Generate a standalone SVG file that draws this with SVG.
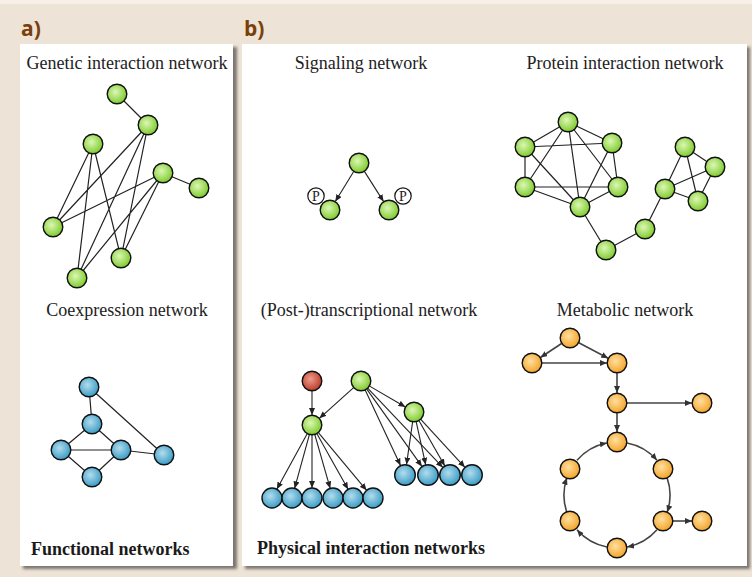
<svg xmlns="http://www.w3.org/2000/svg" width="752" height="577" viewBox="0 0 752 577">
<defs>
<radialGradient id="gG" cx="0.42" cy="0.4" r="0.6"><stop offset="0" stop-color="#dcf7b4"/><stop offset="1" stop-color="#7fcb2f"/></radialGradient>
<radialGradient id="gB" cx="0.42" cy="0.4" r="0.6"><stop offset="0" stop-color="#b3dced"/><stop offset="1" stop-color="#3b9dc6"/></radialGradient>
<radialGradient id="gO" cx="0.42" cy="0.4" r="0.6"><stop offset="0" stop-color="#ffdfa0"/><stop offset="1" stop-color="#f4a52a"/></radialGradient>
<radialGradient id="gR" cx="0.42" cy="0.4" r="0.6"><stop offset="0" stop-color="#ee9c8c"/><stop offset="1" stop-color="#bb3d2c"/></radialGradient>
<filter id="sh" x="-5%" y="-5%" width="110%" height="110%"><feGaussianBlur stdDeviation="1.6"/></filter>
<marker id="ar" markerUnits="userSpaceOnUse" markerWidth="7" markerHeight="6" refX="7" refY="3" orient="auto"><path d="M0,0 L7,3 L0,6 z" fill="#222"/></marker>
<marker id="am" markerUnits="userSpaceOnUse" markerWidth="7" markerHeight="6" refX="7" refY="3" orient="auto"><path d="M0,0 L7,3 L0,6 z" fill="#333"/></marker>
</defs>
<style>
.t{font-family:"Liberation Serif","Times New Roman",serif;font-size:18px;fill:#222}
.tb{font-family:"Liberation Serif","Times New Roman",serif;font-size:18px;font-weight:bold;fill:#1a1a1a}
.lab{font-family:"Open Sans","Liberation Sans",sans-serif;font-size:21px;font-weight:bold;fill:#7a3f0a}
.g{fill:url(#gG);stroke:#111;stroke-width:1.4}
.b{fill:url(#gB);stroke:#111;stroke-width:1.4}
.o{fill:url(#gO);stroke:#111;stroke-width:1.4}
.r{fill:url(#gR);stroke:#111;stroke-width:1.4}
.e{stroke:#222;stroke-width:1.2;fill:none}
.d{stroke:#222;stroke-width:1.1;fill:none;marker-end:url(#ar)}
.m{stroke:#444;stroke-width:1.6;fill:none;marker-end:url(#am)}
.p{fill:#fff;stroke:#111;stroke-width:1.2}
.pt{font-family:"Liberation Serif","Times New Roman",serif;font-size:14px;fill:#222}
</style>
<rect width="752" height="577" fill="#ede3d6"/>
<rect width="752" height="4" fill="#f6f0e9"/>
<text class="lab" x="21" y="36">a)</text>
<text class="lab" x="244" y="36">b)</text>
<rect x="23" y="47" width="214" height="522" fill="#7d7670" filter="url(#sh)"/>
<rect x="20" y="44" width="213" height="522" fill="#fff"/>
<rect x="245" y="47" width="505" height="522" fill="#7d7670" filter="url(#sh)"/>
<rect x="242" y="44" width="505" height="522" fill="#fff"/>

<text class="t" x="127" y="69" text-anchor="middle">Genetic interaction network</text>
<text class="t" x="127" y="316" text-anchor="middle">Coexpression network</text>
<text class="tb" x="31" y="555">Functional networks</text>
<text class="t" x="361" y="69" text-anchor="middle">Signaling network</text>
<text class="t" x="625" y="69" text-anchor="middle">Protein interaction network</text>
<text class="t" x="369" y="316" text-anchor="middle">(Post-)transcriptional network</text>
<text class="t" x="625" y="316" text-anchor="middle">Metabolic network</text>
<text class="tb" x="257" y="554">Physical interaction networks</text>

<g id="connectors">
<path class="e" d="M117,94 L148,125 M163,173 L199,188 M93,144 L53,227 M93,144 L121,258 M93,144 L77,278 M148,125 L53,227 M148,125 L121,258 M148,125 L77,278 M163,173 L53,227 M163,173 L121,258 M163,173 L77,278"/>
<path class="e" d="M89,387 L92,424 M89,387 L164,455 M92,424 L61,450 M92,424 L121,450 M61,450 L121,450 M61,450 L92,477 M121,450 L92,477 M121,450 L164,455"/>
<path class="d" d="M353.7,171.5 L335.3,201.5"/>
<path class="d" d="M364.4,171.4 L383.6,201.6"/>
<path class="e" d="M568,122 L525,147 M568,122 L612,143 M568,122 L525,187 M568,122 L618,187 M568,122 L580,207 M525,147 L612,143 M525,147 L525,187 M525,147 L580,207 M612,143 L618,187 M612,143 L580,207 M525,187 L618,187 M525,187 L580,207 M618,187 L580,207 M580,207 L606,250 M606,250 L645,229 M645,229 L665,189 M665,189 L685,147 M665,189 L715,167 M665,189 L698,201 M685,147 L715,167 M685,147 L698,201 M715,167 L698,201"/>
<path class="d" d="M312,391 L312,415"/>
<path class="d" d="M353.6,387.7 L319.4,418.3"/>
<path class="d" d="M369.6,386.1 L405.4,407"/>
<path class="d" d="M307.2,433.8 L276.8,489.2"/>
<path class="d" d="M309.4,434.6 L294.6,488.4"/>
<path class="d" d="M312,435 L312,488"/>
<path class="d" d="M314.8,434.6 L330.2,488.4"/>
<path class="d" d="M316.9,433.7 L348.1,489.3"/>
<path class="d" d="M318.4,432.7 L366.6,490.3"/>
<path class="d" d="M365.2,390.1 L400.5,465.5"/>
<path class="d" d="M366.8,389.1 L421.9,466.4"/>
<path class="d" d="M367.9,388.3 L442.8,467.4"/>
<path class="d" d="M412.6,421.9 L406.5,464.6"/>
<path class="d" d="M416.2,421.8 L425.7,464.8"/>
<path class="d" d="M419,420.7 L444.8,465.9"/>
<path class="d" d="M420.8,419.4 L464.9,467.3"/>
<path class="m" d="M561.6,343.5 L540.4,357.5"/>
<path class="m" d="M578.8,342.7 L608.2,358.3"/>
<path class="m" d="M542,363 L607,363"/>
<path class="m" d="M617,373 L617,393"/>
<path class="m" d="M627,403 L692,403"/>
<path class="m" d="M617,413 L617,432"/>
<path class="m" d="M673,521 L692,521"/>
<path class="m" d="M627.1,443 A53,53 0 0 1 657,460.2"/>
<path class="m" d="M667.1,477.7 A53,53 0 0 1 667.1,512.3"/>
<path class="m" d="M657,529.8 A53,53 0 0 1 627.1,547"/>
<path class="m" d="M606.9,547 A53,53 0 0 1 577,529.8"/>
<path class="m" d="M566.9,512.3 A53,53 0 0 1 566.9,477.7"/>
<path class="m" d="M577,460.2 A53,53 0 0 1 606.9,443"/>
</g>

<g id="genetic-nodes">
<circle id="gn1" class="g" cx="117" cy="94" r="9.8"/>
<circle id="gn2" class="g" cx="148" cy="125" r="9.8"/>
<circle id="gn3" class="g" cx="93" cy="144" r="9.8"/>
<circle id="gn4" class="g" cx="163" cy="173" r="9.8"/>
<circle id="gn5" class="g" cx="199" cy="188" r="9.8"/>
<circle id="gn6" class="g" cx="53" cy="227" r="9.8"/>
<circle id="gn7" class="g" cx="121" cy="258" r="9.8"/>
<circle id="gn8" class="g" cx="77" cy="278" r="9.8"/>
</g>
<g id="coexpression-nodes">
<circle id="cn1" class="b" cx="89" cy="387" r="9.8"/>
<circle id="cn2" class="b" cx="92" cy="424" r="9.8"/>
<circle id="cn3" class="b" cx="61" cy="450" r="9.8"/>
<circle id="cn4" class="b" cx="121" cy="450" r="9.8"/>
<circle id="cn5" class="b" cx="164" cy="455" r="9.8"/>
<circle id="cn6" class="b" cx="92" cy="477" r="9.8"/>
</g>
<g id="signaling-nodes">
<circle id="sn1" class="g" cx="359" cy="163" r="9.8"/>
<g id="sp1"><circle class="p" cx="316" cy="196" r="8.2"/><text class="pt" x="316" y="201" text-anchor="middle">P</text></g>
<circle id="sn2" class="g" cx="330" cy="210" r="9.8"/>
<g id="sp2"><circle class="p" cx="403" cy="196" r="8.2"/><text class="pt" x="403" y="201" text-anchor="middle">P</text></g>
<circle id="sn3" class="g" cx="389" cy="210" r="9.8"/>
</g>
<g id="protein-nodes">
<circle id="pn1" class="g" cx="568" cy="122" r="9.8"/>
<circle id="pn2" class="g" cx="525" cy="147" r="9.8"/>
<circle id="pn3" class="g" cx="612" cy="143" r="9.8"/>
<circle id="pn4" class="g" cx="525" cy="187" r="9.8"/>
<circle id="pn5" class="g" cx="618" cy="187" r="9.8"/>
<circle id="pn6" class="g" cx="580" cy="207" r="9.8"/>
<circle id="pn7" class="g" cx="606" cy="250" r="9.8"/>
<circle id="pn8" class="g" cx="645" cy="229" r="9.8"/>
<circle id="pn9" class="g" cx="665" cy="189" r="9.8"/>
<circle id="pn10" class="g" cx="685" cy="147" r="9.8"/>
<circle id="pn11" class="g" cx="715" cy="167" r="9.8"/>
<circle id="pn12" class="g" cx="698" cy="201" r="9.8"/>
</g>
<g id="transcriptional-nodes">
<circle id="tr" class="r" cx="312" cy="381" r="9.8"/>
<circle id="tg1" class="g" cx="361" cy="381" r="9.8"/>
<circle id="tg2" class="g" cx="312" cy="425" r="9.8"/>
<circle id="tg3" class="g" cx="414" cy="412" r="9.8"/>
<circle id="tb1" class="b" cx="272" cy="498" r="10"/>
<circle id="tb2" class="b" cx="292" cy="498" r="10"/>
<circle id="tb3" class="b" cx="312" cy="498" r="10"/>
<circle id="tb4" class="b" cx="333" cy="498" r="10"/>
<circle id="tb5" class="b" cx="353" cy="498" r="10"/>
<circle id="tb6" class="b" cx="373" cy="498" r="10"/>
<circle id="tc1" class="b" cx="405" cy="475" r="10.3"/>
<circle id="tc2" class="b" cx="428" cy="475" r="10.3"/>
<circle id="tc3" class="b" cx="450" cy="475" r="10.3"/>
<circle id="tc4" class="b" cx="472" cy="475" r="10.3"/>
</g>
<g id="metabolic-nodes">
<circle id="mn1" class="o" cx="570" cy="338" r="9.8"/>
<circle id="mn2" class="o" cx="532" cy="363" r="9.8"/>
<circle id="mn3" class="o" cx="617" cy="363" r="9.8"/>
<circle id="mn4" class="o" cx="617" cy="403" r="9.8"/>
<circle id="mn5" class="o" cx="702" cy="403" r="9.8"/>
<circle id="mn6" class="o" cx="617" cy="442" r="9.8"/>
<circle id="mn7" class="o" cx="663" cy="469" r="9.8"/>
<circle id="mn8" class="o" cx="663" cy="521" r="9.8"/>
<circle id="mn9" class="o" cx="702" cy="521" r="9.8"/>
<circle id="mn10" class="o" cx="617" cy="548" r="9.8"/>
<circle id="mn11" class="o" cx="570" cy="521" r="9.8"/>
<circle id="mn12" class="o" cx="570" cy="469" r="9.8"/>
</g>
</svg>
